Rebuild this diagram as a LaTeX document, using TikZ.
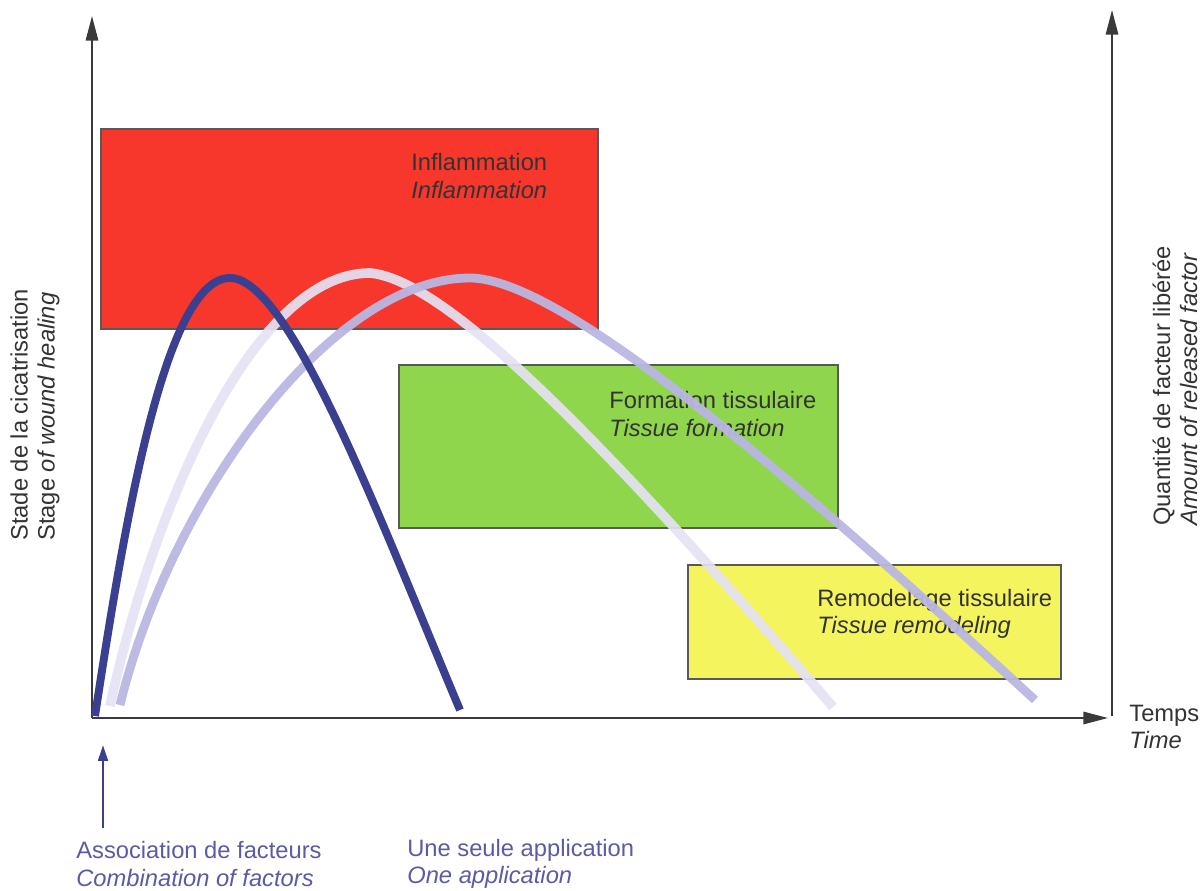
\documentclass[tikz,border=0pt]{standalone}
\usepackage{fontspec}
\setmainfont{Liberation Sans}
\usetikzlibrary{arrows.meta}
\definecolor{axisgray}{HTML}{3A3A3A}
\definecolor{txtgray}{HTML}{333333}
\definecolor{redbox}{HTML}{F7362C}
\definecolor{greenbox}{HTML}{8FD64C}
\definecolor{yellowbox}{HTML}{F4F45E}
\definecolor{darkcurve}{HTML}{3B3F8F}
\definecolor{lightcurve}{HTML}{E4E2F4}
\definecolor{medcurve}{HTML}{B9B6E2}
\definecolor{bluetxt}{HTML}{5B5AA6}
\tikzset{
  axis/.style={draw=axisgray, line width=1.2pt, -{Triangle[length=14pt,width=7pt]}},
  phase/.style={draw=black!65, line width=0.6pt},
  lbl/.style={inner sep=0pt, align=left, text=txtgray, font=\fontsize{13.5}{15.4}\selectfont},
  bluelbl/.style={lbl, text=bluetxt},
  curve/.style={line cap=butt}
}
\begin{document}
\begin{tikzpicture}[x=0.02cm, y=-0.02cm]
\useasboundingbox (0,0) rectangle (1202,891);
% phase boxes
\filldraw[phase, fill=redbox] (101,129) rectangle (598,329);
\filldraw[phase, fill=greenbox] (399,365) rectangle (838,528);
\filldraw[phase, fill=yellowbox] (688,565) rectangle (1061,679);
\node[lbl, anchor=west] (infl) at (411,176) {Inflammation\\\textit{Inflammation}};
\node[lbl, anchor=west] (form) at (609,414) {Formation tissulaire\\\textit{Tissue formation}};
\node[lbl, anchor=west] (remo) at (817,614) {Remodelage tissulaire\\\textit{Tissue remodeling}};
% axes
\coordinate (o) at (92,718);
\coordinate (ytop) at (92,16);
\coordinate (xend) at (1108,718);
\coordinate (rbot) at (1112,716);
\coordinate (rtop) at (1112,10);
\draw[axis] (o) -- (ytop);
\draw[axis] (o) -- (xend);
\draw[axis] (rbot) -- (rtop);
% curves
\draw[curve, lightcurve, opacity=0.92, line width=5.5pt]
  (110,706) .. controls (150,520) and (250,273) .. (370,273)
            .. controls (450,280) and (620,460) .. (833,707);
\draw[curve, medcurve, opacity=0.95, line width=5pt]
  (120,705) .. controls (170,500) and (330,278) .. (470,278)
            .. controls (560,278) and (785,470) .. (1035,700);
\draw[curve, darkcurve, line width=4.5pt]
  (95,716) .. controls (125,520) and (165,278) .. (230,278)
           .. controls (290,278) and (380,520) .. (460,710);
% axis labels
\node[lbl, anchor=west, rotate=90] (ylab) at (35,541) {Stade de la cicatrisation\\Stage \textit{of wound healing}};
\node[lbl, anchor=west, rotate=90] (rlab) at (1175,526) {Quantité de facteur libérée\\\textit{Amount of released factor}};
\node[lbl, anchor=west] (time) at (1129,727) {Temps\\\textit{Time}};
% bottom labels
\coordinate (abot) at (103,828);
\coordinate (atop) at (103,745);
\draw[draw=darkcurve, line width=1.4pt, -{Triangle[length=9pt,width=5.5pt]}] (abot) -- (atop);
\node[bluelbl, anchor=west] (assoc) at (76,864) {Association de facteurs\\\textit{Combination of factors}};
\node[bluelbl, anchor=west] (single) at (407,864) {Une seule application\\\textit{One application}};
\end{tikzpicture}
\end{document}
